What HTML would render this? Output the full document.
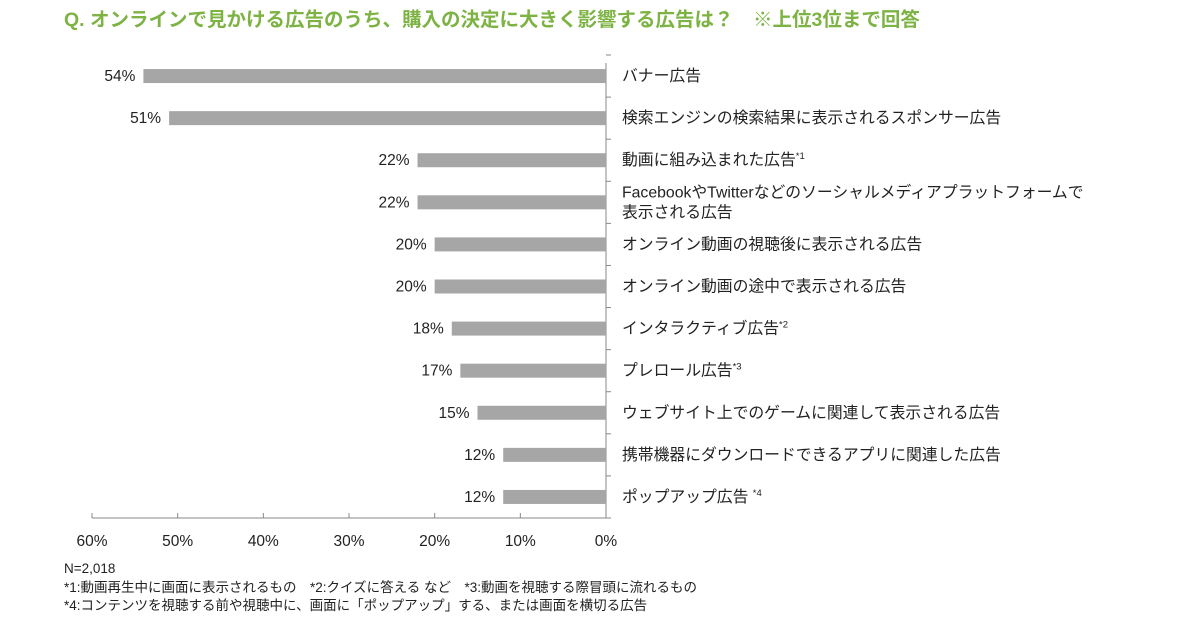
<!DOCTYPE html>
<html><head><meta charset="utf-8"><style>
body{margin:0;background:#fff;width:1200px;height:630px;overflow:hidden;font-family:"Liberation Sans","Noto Sans CJK JP",sans-serif;}
</style></head><body>
<svg width="1200" height="630" font-family="'Liberation Sans','Noto Sans CJK JP',sans-serif">
<text x="64" y="26" font-size="19.5" font-weight="bold" fill="#7cb342">Q. オンラインで見かける広告のうち、購入の決定に大きく影響する広告は？　※上位3位まで回答</text>
<g id="g"></g>
<text x="64" y="573" font-size="13.5" fill="#222">N=2,018</text>
<text x="64" y="592" font-size="13.5" fill="#222">*1:動画再生中に画面に表示されるもの　*2:クイズに答える など　*3:動画を視聴する際冒頭に流れるもの</text>
<text x="64" y="610" font-size="13.5" fill="#222">*4:コンテンツを視聴する前や視聴中に、画面に「ポップアップ」する、または画面を横切る広告</text>
</svg>
<script>
const categories=["バナー広告","検索エンジンの検索結果に表示されるスポンサー広告","動画に組み込まれた広告|*1","FacebookやTwitterなどのソーシャルメディアプラットフォームで\n表示される広告","オンライン動画の視聴後に表示される広告","オンライン動画の途中で表示される広告","インタラクティブ広告|*2","プレロール広告|*3","ウェブサイト上でのゲームに関連して表示される広告","携帯機器にダウンロードできるアプリに関連した広告","ポップアップ広告 |*4"];
const values=[54,51,22,22,20,20,18,17,15,12,12];
const ticks=[60,50,40,30,20,10,0];
const NS="http://www.w3.org/2000/svg",g=document.getElementById('g');
const x0=606,x60=92,topY=55,bottomY=518;
const xs=v=>x0-(x0-x60)*v/60;
const band=(bottomY-topY)/categories.length;
const yc=i=>topY+band*(i+0.5);
function mk(t,a,p){const e=document.createElementNS(NS,t);for(const k in a)e.setAttribute(k,a[k]);(p||g).appendChild(e);return e;}
const ax=mk('line',{x1:x0,x2:x0,y1:topY+8,y2:bottomY,stroke:'#888','stroke-width':1});


const bx=mk('line',{x1:x60,x2:x0,y1:bottomY,y2:bottomY,stroke:'#888','stroke-width':1});


for(let i=0;i<=categories.length;i++){mk('line',{x1:x0,x2:x0+5,y1:topY+band*i,y2:topY+band*i,stroke:'#888'});}
ticks.forEach(t=>{
 mk('line',{x1:xs(t),x2:xs(t),y1:bottomY,y2:bottomY-5,stroke:'#888'});
 const tl=mk('text',{x:xs(t),y:bottomY+28,'font-size':15.5,'text-anchor':'middle',fill:'#222'});
 tl.textContent=t+'%';
 
 
});
values.forEach((v,i)=>{
 const y=yc(i);
 const b=mk('rect',{x:xs(v),y:y-7,width:x0-xs(v),height:14,fill:'#a6a6a6'});
 
 
 const vl=mk('text',{x:xs(v)-8,y:y+5,'font-size':15.5,'text-anchor':'end',fill:'#222'});
 vl.textContent=v+'%';
 
 
 const lines=categories[i].split('\n');
 lines.forEach((ln,j)=>{
  const parts=ln.split('|');
  const ty=y+5+(j-(lines.length-1)/2)*20;
  const cl=mk('text',{x:622,y:ty,'font-size':15.8,fill:'#222'});
  cl.textContent=parts[0];
  if(parts[1]){const s=mk('tspan',{'font-size':9.5,dy:-6},cl);s.textContent=parts[1];}
  
  
 });
});
</script>
</body></html>
